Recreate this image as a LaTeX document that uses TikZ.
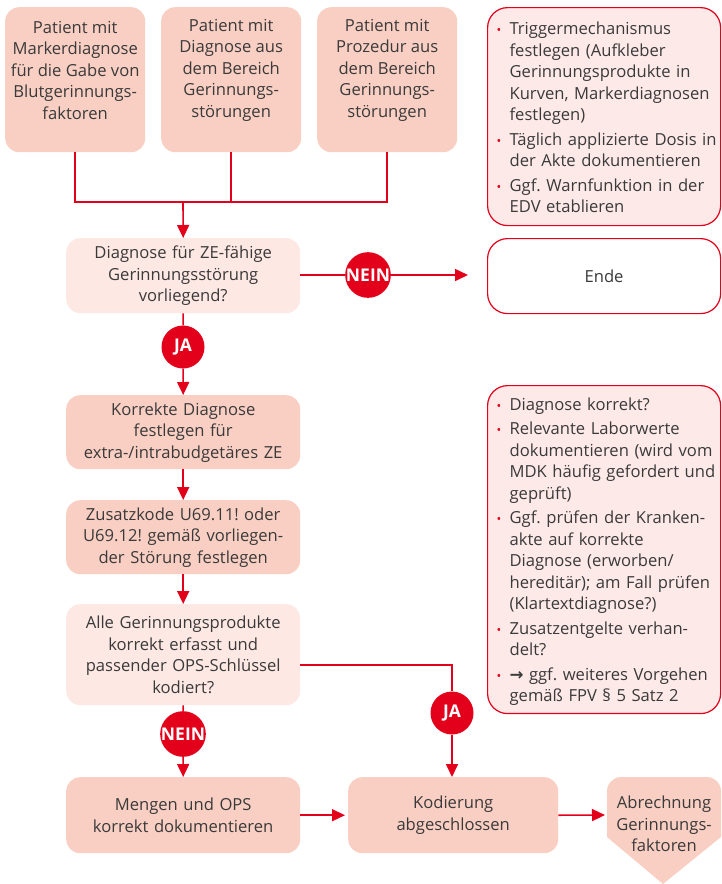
\documentclass[tikz,border=0pt]{standalone}
\usepackage{fontspec}
\usepackage{graphicx}
\setmainfont{Open Sans}
\newfontfamily\djv{DejaVu Sans}
\usetikzlibrary{arrows.meta}
\definecolor{zred}{HTML}{E3001B}
\definecolor{fdark}{HTML}{F9CFC3}
\definecolor{flight}{HTML}{FDE8E3}
\definecolor{fpink}{HTML}{FDE9E8}
\definecolor{tgray}{HTML}{3A3A3A}
\newcommand{\fs}{\fontsize{16.6}{21.5}\selectfont\frenchspacing}
\newcommand{\bit}{\par\noindent\hangindent=13pt\hangafter=1\makebox[13pt][l]{\textcolor{zred}{\scalebox{0.75}{•}}}}
\newcommand{\infostart}{\setlength\parskip{3pt}\leftskip=9pt\rightskip=0pt plus 1fil}
\begin{document}
\begin{tikzpicture}[x=1pt,y=-1pt,
  every node/.style={text=tgray},
  box/.style={rounded corners=14pt, fill=fdark, inner sep=0pt, align=center, anchor=north west, font=\fs},
  lbox/.style={box, fill=flight},
  txt/.style={align=center, inner sep=0pt, font=\fs},
  info/.style={rounded corners=20pt, fill=fpink, draw=zred, line width=1.2pt, inner xsep=0pt, inner ysep=0pt, anchor=north west, font=\fs, text width=233pt},
  lab/.style={circle, fill=zred, text=white, font=\bfseries\fontsize{17.5}{17.5}\selectfont, minimum size=43pt, inner sep=0pt},
  conn/.style={draw=zred, line width=1.6pt},
  arr/.style={conn, -{Triangle[length=13pt,width=12pt]}}
]
\useasboundingbox (0,0) rectangle (722,884);

% top boxes
\node[box, minimum width=140pt, minimum height=145pt] (p1) at (5,7) {};
\node[box, minimum width=140pt, minimum height=145pt] (p2) at (161,7) {};
\node[box, minimum width=140pt, minimum height=145pt] (p3) at (317,7) {};
\node[txt] (p1t) at ([yshift=9.5pt]p1.center) {Patient mit\\Markerdiagnose\\für die Gabe von\\Blutgerinnungs-\\faktoren};
\node[txt] (p2t) at ([yshift=9.5pt]p2.center) {Patient mit\\Diagnose aus\\dem Bereich\\Gerinnungs-\\störungen};
\node[txt] (p3t) at ([yshift=9.5pt]p3.center) {Patient mit\\Prozedur aus\\dem Bereich\\Gerinnungs-\\störungen};

% right info boxes
\node[info, minimum width=233pt, minimum height=218pt] (i1) at (487,7) {\infostart
\bit Triggermechanismus\newline festlegen (Aufkleber\newline Gerinnungsprodukte in\newline Kurven, Markerdiagnosen\newline festlegen)%
\bit Täglich applizierte Dosis in\newline der Akte dokumentieren%
\bit Ggf. Warnfunktion in der\newline EDV etablieren\par\vspace{10pt}};
\node[info, fill=white, minimum width=233pt, minimum height=75pt, align=center] (ende) at (487,238) {Ende};
\node[info, minimum width=233pt, minimum height=327pt] (i2) at (487,385) {\infostart
\bit Diagnose korrekt?%
\bit Relevante Laborwerte\newline dokumentieren (wird vom\newline MDK häufig gefordert und\newline geprüft)%
\bit Ggf. prüfen der Kranken-\newline akte auf korrekte\newline Diagnose (erworben/\newline hereditär); am Fall prüfen\newline (Klartextdiagnose?)%
\bit Zusatzentgelte verhan-\newline delt?%
\bit {\djv\bfseries →} ggf. weiteres Vorgehen\newline gemäß FPV § 5 Satz 2\par\vspace{8pt}};

% main column
\node[lbox, minimum width=234pt, minimum height=75pt, text width=226pt] (d1) at (66,238) {Diagnose für ZE-fähige\\Gerinnungsstörung\\vorliegend?};
\node[box, minimum width=234pt, minimum height=74pt, text width=226pt] (k1) at (66,395) {Korrekte Diagnose\\festlegen für\\extra-/intrabudgetäres ZE};
\node[box, minimum width=234pt, minimum height=74pt, text width=226pt] (z1) at (66,500) {Zusatzkode U69.11! oder\\U69.12! gemäß vorliegen-\\der Störung festlegen};
\node[lbox, minimum width=234pt, minimum height=101pt, text width=226pt] (a1) at (66,604) {Alle Gerinnungsprodukte\\korrekt erfasst und\\passender OPS-Schlüssel\\kodiert?};
\node[box, minimum width=234pt, minimum height=76pt, text width=226pt] (m1) at (66,777) {Mengen und OPS\\korrekt dokumentieren};
\node[box, minimum width=210pt, minimum height=76pt, text width=200pt] (kod) at (348,777) {Kodierung\\abgeschlossen};

% final pentagon
\fill[fdark] (607,837) [rounded corners=14pt] -- (607,777) -- (721,777) [sharp corners] -- (721,837) -- (663,884) -- cycle;
\node[txt] (abr) at (664,824) {Abrechnung\\Gerinnungs-\\faktoren};
\coordinate (abrin) at (605,815);

% connectors top
\coordinate (mrg) at (183,202);
\draw[conn] (p1.south) |- (p3.south |- mrg) -- (p3.south);
\draw[conn] (p2.south) -- (p2.south |- mrg);
\draw[arr] (mrg) -- (d1.north);

% decision 1
\node[lab] (nein1) at (368,275) {NEIN};
\node[lab] (ja1) at (183,347) {JA};
\draw[conn] (d1.east |- nein1) -- (nein1);
\draw[arr, shorten >=19pt] (nein1) -- (ende.west |- nein1);
\draw[conn] (d1.south) -- (ja1);
\draw[arr] (ja1) -- (k1.north);
\draw[arr] (k1.south) -- (z1.north);
\draw[arr] (z1.south) -- (a1.north);

% decision 2
\node[lab] (ja2) at (452,713) {JA};
\node[lab] (nein2) at (183,734) {NEIN};
\coordinate (a1r) at (300,665);
\draw[conn] (a1r) -| (ja2);
\draw[arr] (ja2) -- (kod.north -| ja2);
\draw[conn] (a1.south) -- (nein2);
\draw[arr] (nein2) -- (m1.north);
\draw[arr, shorten >=3pt] (m1.east) -- (kod.west);
\draw[arr] (kod.east) -- (abrin);
\end{tikzpicture}
\end{document}
